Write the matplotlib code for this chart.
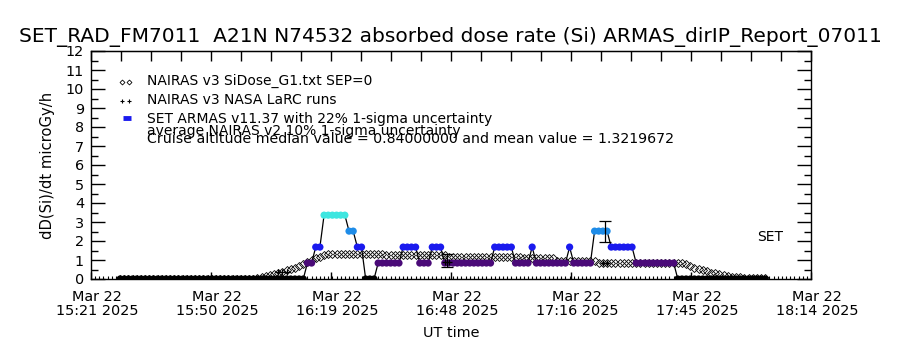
import numpy as np
import matplotlib
matplotlib.use("Agg")
import matplotlib.pyplot as plt
from matplotlib.transforms import ScaledTranslation

plt.rcParams['font.family'] = ['DejaVu Sans']

# --- data (time in minutes after Mar 22 2025 15:21 UT) --- #
x_start = 0.0
x_end = 173.0
tick_labels = ['Mar 22\n15:21 2025', 'Mar 22\n15:50 2025', 'Mar 22\n16:19 2025',
               'Mar 22\n16:48 2025', 'Mar 22\n17:16 2025', 'Mar 22\n17:45 2025',
               'Mar 22\n18:14 2025']

# NAIRAS v3 SiDose_G1 (one value per minute, 7 .. 162)
nairas_t = np.arange(7, 163)
nairas_v = ([0.0] * 33 +                                   # 7 .. 39
            [0.03, 0.08, 0.14, 0.2, 0.25, 0.31, 0.38, 0.45, 0.52, 0.6,
             0.68, 0.78, 0.9, 1.0, 1.1, 1.18, 1.26] +       # 40 .. 56
            [1.3] * 14 +                                    # 57 .. 70
            [1.25] * 15 +                                   # 71 .. 85
            [1.18] * 18 +                                   # 86 .. 103
            [1.1] * 8 +                                     # 104 .. 111
            [0.95] * 10 +                                   # 112 .. 121
            [0.85] * 20 +                                   # 122 .. 141
            [0.85, 0.78, 0.68, 0.6, 0.53, 0.46, 0.4, 0.34, 0.29, 0.24,
             0.19, 0.15, 0.12, 0.1, 0.08, 0.07, 0.06, 0.05, 0.05, 0.05,
             0.05])                                         # 142 .. 162

# NAIRAS v3 NASA LaRC runs
larc_t = [45, 46, 47, 85, 86, 123, 124]
larc_v = [0.37, 0.37, 0.37, 0.9, 0.9, 0.84, 0.84]

# SET ARMAS v11.37 (one value per minute, 7 .. 162)
armas_t = np.arange(7, 163)
armas_v = ([0.0] * 45 +                                     # 7 .. 51
           [0.84, 0.84, 1.68, 1.68] +                       # 52 .. 55
           [3.36] * 6 +                                     # 56 .. 61
           [2.52, 2.52, 1.68, 1.68, 0.0, 0.0, 0.0] +        # 62 .. 68
           [0.84] * 6 + [1.68] * 4 + [0.84] * 3 + [1.68] * 3 +   # 69 .. 84
           [0.84] * 12 + [1.68] * 5 + [0.84] * 4 + [1.68] +      # 85 .. 106
           [0.84] * 8 + [1.68] + [0.84] * 5 +               # 107 .. 120
           [2.52] * 4 + [1.68] * 6 + [0.84] * 10 +          # 121 .. 140
           [0.0] * 22)                                      # 141 .. 162

# 1-sigma error bars
err_t = [85.5, 123.5]
err_v = [0.97, 2.52]
err_e = [0.35, 0.55]

level_colors = {0.0: '#000000', 0.84: '#4a0a78', 1.68: '#1a1aee',
                2.52: '#1e8ce8', 3.36: '#3ee6e0'}

title = 'SET_RAD_FM7011  A21N N74532 absorbed dose rate (Si) ARMAS_dirIP_Report_07011'
cruise_text = 'Cruise altitude median value = 0.84000000 and mean value = 1.3219672'

# --- figure --- #
fig = plt.figure(figsize=(9, 3.5), dpi=100)
ax = fig.add_axes([91 / 900, 1 - 279 / 350, 720 / 900, 228 / 350])

# NAIRAS diamonds
ax.plot(nairas_t, nairas_v, linestyle='none', marker='D', ms=3.8,
        mfc='none', mec='black', mew=0.6)

# ARMAS connecting line + coloured markers
ax.plot(armas_t, armas_v, color='black', lw=0.9, zorder=3)
armas_c = [level_colors[v] for v in armas_v]
ax.scatter(armas_t, armas_v, c=armas_c, marker='o', s=27, linewidths=0,
           zorder=4)

# LaRC runs
ax.plot(larc_t, larc_v, linestyle='none', marker='+', ms=4, mew=0.9,
        color='black', zorder=5)

ax.errorbar(err_t, err_v, yerr=err_e, fmt='none', ecolor='black',
            elinewidth=0.9, capsize=4, capthick=0.9, zorder=6)

# axes
ax.set_xlim(x_start, x_end)
ax.set_ylim(0, 12)
ax.set_xticks(np.linspace(x_start, x_end, 7))
ax.set_xticklabels(tick_labels, fontsize=10.4, linespacing=1.0)
ax.set_xticks(np.arange(1, 173), minor=True)
ax.set_yticks(np.arange(0, 13))
ax.set_yticks(np.arange(0.5, 12, 1.0), minor=True)
ax.tick_params(axis='x', which='major', direction='in', length=5, width=1,
               pad=8)
ax.tick_params(axis='x', which='minor', direction='in', length=2.5, width=0.8)
ax.tick_params(axis='y', which='major', direction='in', length=10, width=1,
               right=True, labelsize=10.4, pad=5)
ax.tick_params(axis='y', which='minor', direction='in', length=5, width=1,
               right=True)
for lab in ax.get_xticklabels():
    lab.set_transform(lab.get_transform() +
                      ScaledTranslation(6 / 100, 0, fig.dpi_scale_trans))

top = ax.secondary_xaxis('top')
top.set_xticks(np.linspace(x_start, x_end, 25))
top.tick_params(direction='in', length=7, width=1, labeltop=False)
top.set_xticklabels([])

for sp in ax.spines.values():
    sp.set_linewidth(1.0)

ax.set_xlabel('UT time', fontsize=10.4, labelpad=6)
ax.set_ylabel('dD(Si)/dt microGy/h', fontsize=10.6, labelpad=8)
fig.text(0.5, 1 - 37 / 350, title, ha='center', va='center', fontsize=14.5)

# legend (drawn by hand, IDL style)
tr = ax.transAxes
ax.plot([0.043, 0.053], [0.862, 0.862], transform=tr, linestyle='none',
        marker='D', ms=2.5, mfc='none', mec='black', mew=0.6)
ax.text(0.078, 0.868, 'NAIRAS v3 SiDose_G1.txt SEP=0', transform=tr,
        fontsize=10, va='center')
ax.plot([0.043, 0.053], [0.78, 0.78], transform=tr, linestyle='none',
        marker='+', ms=3.5, mew=0.8, color='black')
ax.text(0.078, 0.785, 'NAIRAS v3 NASA LaRC runs', transform=tr,
        fontsize=10, va='center')
ax.plot([0.044, 0.056], [0.706, 0.706], transform=tr, color='#1a1aee',
        lw=3.5, solid_capstyle='butt')
ax.text(0.078, 0.702, 'SET ARMAS v11.37 with 22% 1-sigma uncertainty',
        transform=tr, fontsize=10, va='center')
ax.text(0.078, 0.647, 'average NAIRAS v2 10% 1-sigma uncertainty',
        transform=tr, fontsize=10, va='center')
ax.text(0.078, 0.612, cruise_text, transform=tr, fontsize=10.2, va='center')
ax.text(0.943, 0.184, 'SET', transform=tr, fontsize=10, ha='center',
        va='center')

fig.savefig('out.png', dpi=100)
